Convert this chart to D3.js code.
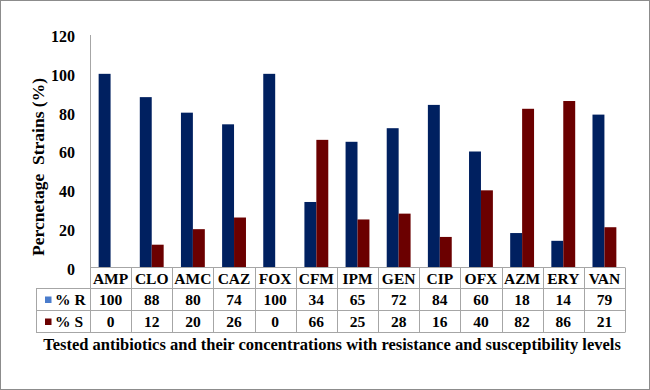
<!DOCTYPE html>
<html><head><meta charset="utf-8">
<script src="https://cdn.jsdelivr.net/npm/d3@7"></script>
</head><body style="margin:0;background:#fff">
<script>
const categories = ["AMP","CLO","AMC","CAZ","FOX","CFM","IPM","GEN","CIP","OFX","AZM","ERY","VAN"];
const resistant = [100,88,80,74,100,34,65,72,84,60,18,14,79];
const susceptible = [0,12,20,26,0,66,25,28,16,40,82,86,21];
const seriesNames = ["% R","% S"];
const yTicks = [0,20,40,60,80,100,120];
const yTitle = "Percnetage  Strains (%)";
const xTitle = "Tested antibiotics and their concentrations with resistance and susceptibility levels";

const W = 650, H = 390;
const colors = ["#002060","#6b0000"];
const legendColors = ["#4a7ccc","#6b0000"];
const svg = d3.select("body").append("svg").attr("width",W).attr("height",H).style("display","block");

svg.append("rect").attr("x",0.5).attr("y",0.5).attr("width",W-1).attr("height",H-1)
  .attr("fill","#fff").attr("stroke","#8c8c8c").attr("stroke-width",1);

const pL = 90, pR = 625, pT = 35, pB = 268;
const x = d3.scaleBand().domain(categories).range([pL,pR]).padding(0);
const y = d3.scaleLinear().domain([0,120]).range([pB,pT]);
const bw = x.bandwidth()*0.29;

const series = [resistant, susceptible];
series.forEach((vals,si)=>{
  svg.append("g").selectAll("rect").data(categories).join("rect")
    .attr("x",(d)=>x(d)+x.bandwidth()/2 - bw + si*bw)
    .attr("y",(d,i)=>y(vals[i]))
    .attr("width",bw)
    .attr("height",(d,i)=>pB - y(vals[i]))
    .attr("fill",colors[si]);
});

const gridC = "#a6a6a6";
const r0 = 267.5, r1 = 288.5, r2 = 310.5, r3 = 332.5;
svg.append("line").attr("x1",pL+0.5).attr("x2",pL+0.5).attr("y1",pT).attr("y2",r3).attr("stroke",gridC);

// table
const tbl = svg.append("g");
tbl.append("line").attr("x1",pL).attr("x2",pR).attr("y1",r0).attr("y2",r0).attr("stroke",gridC);
[r1,r2,r3].forEach(yy=>tbl.append("line").attr("x1",36).attr("x2",pR).attr("y1",yy).attr("y2",yy).attr("stroke",gridC));
tbl.append("line").attr("x1",36.5).attr("x2",36.5).attr("y1",r1).attr("y2",r3).attr("stroke",gridC);
categories.forEach((c,i)=>{
  const xr = Math.round(x(c)+x.bandwidth())+0.5;
  tbl.append("line").attr("x1",xr).attr("x2",xr).attr("y1",r0).attr("y2",r3).attr("stroke",gridC);
});
tbl.selectAll("text.cat").data(categories).join("text").attr("class","cat")
  .attr("x",d=>x(d)+x.bandwidth()/2).attr("y",(r0+r1)/2).attr("dy","0.36em")
  .attr("text-anchor","middle").text(d=>d);
const rowsY = [(r1+r2)/2,(r2+r3)/2];
series.forEach((vals,si)=>{
  tbl.selectAll("text.v"+si).data(categories).join("text").attr("class","v"+si)
    .attr("x",d=>x(d)+x.bandwidth()/2).attr("y",rowsY[si]).attr("dy","0.36em")
    .attr("text-anchor","middle").text((d,i)=>vals[i]);
  tbl.append("rect").attr("x",45).attr("y",rowsY[si]-3).attr("width",6.5).attr("height",6.5).attr("fill",legendColors[si]);
  tbl.append("text").attr("x",55).attr("y",rowsY[si]).attr("dy","0.36em").text(seriesNames[si]);
});

svg.selectAll("text").style("font-family",'"Liberation Serif"').style("font-weight","bold").style("font-size","15.5px").attr("fill","#000");

// y axis
const yAxis = d3.axisLeft(y).tickValues(yTicks).tickSize(0).tickPadding(15);
const ga = svg.append("g").attr("transform",`translate(${pL},0)`).call(yAxis);
ga.select(".domain").remove();
ga.selectAll("text").attr("dy","0.4em").attr("fill","#000")
  .style("font-family",'"Liberation Serif"').style("font-weight","bold").style("font-size","16px");

// titles
const tfont = (s,fs)=>s.style("font-family",'"Liberation Serif"').style("font-weight","bold").style("font-size",fs).attr("fill","#000");
svg.append("text").attr("x",332).attr("y",350).attr("text-anchor","middle").text(xTitle).call(tfont,"16.5px");
svg.append("text").attr("transform","translate(44,167) rotate(-90)").attr("text-anchor","middle").style("white-space","pre").text(yTitle).call(tfont,"17.5px");
</script>
</body></html>
